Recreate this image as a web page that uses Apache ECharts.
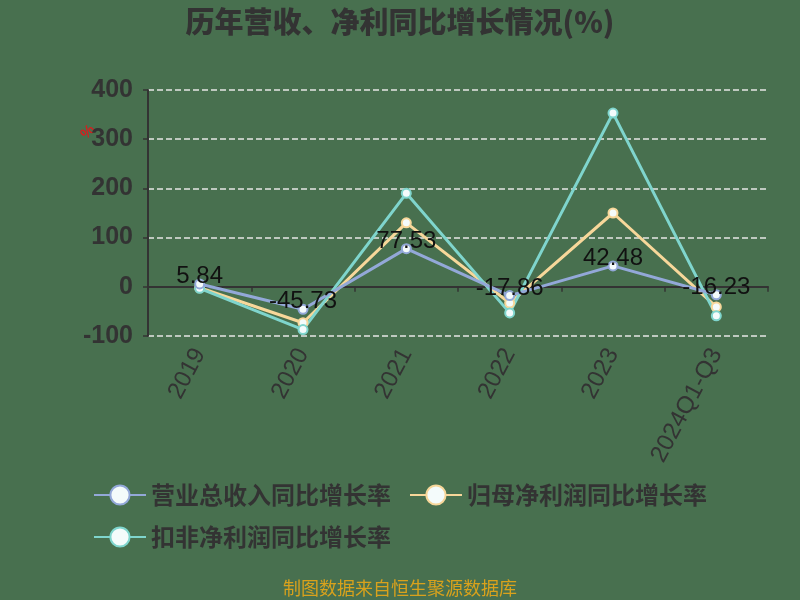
<!DOCTYPE html>
<html lang="zh">
<head>
    <meta charset="UTF-8">
    <title>历年营收、净利同比增长情况</title>
    <script src="https://cdn.jsdelivr.net/npm/echarts@6/dist/echarts.min.js"></script>
    <style>
        html, body { margin: 0; padding: 0; }
        #box { width: 800px; height: 600px; }
    </style>
</head>
<body>
    <div id="box"></div>
<script>
    // 数据
    var years = ['2019', '2020', '2021', '2022', '2023', '2024Q1-Q3']
    var revenueRate = [5.84, -45.73, 77.53, -17.86, 42.48, -16.23]
    var netProfitRate = [-2, -73, 130, -33, 150, -41]
    var deductedRate = [-3, -87, 190, -53, 353, -59]
    var seriesNames = ['营业总收入同比增长率', '归母净利润同比增长率', '扣非净利润同比增长率']
    var colors = ['#93a8d8', '#f7d79a', '#7fd5cd']

    var mEcharts = echarts.init(document.querySelector('#box'))

    function makeSeries(name, data, color, showLabel) {
        return {
            name: name,
            type: 'line',
            data: data,
            symbol: 'circle',
            symbolSize: 9,
            lineStyle: { width: 3, color: color },
            itemStyle: { color: '#f4fbfb', borderColor: color, borderWidth: 2 },
            label: {
                show: showLabel,
                position: 'top',
                distance: -10,
                color: '#111',
                fontSize: 24,
                fontFamily: 'Liberation Sans'
            }
        }
    }

    var option = {
        backgroundColor: '#48704f',
        title: {
            text: '历年营收、净利同比增长情况(%)',
            left: 'center',
            top: 2,
            textStyle: { fontSize: 29, fontWeight: 900, color: '#333', fontFamily: 'Noto Sans CJK SC' }
        },
        grid: { left: 148, right: 32, top: 90, bottom: 264 },
        legend: {
            left: 88,
            top: 478,
            width: 690,
            itemWidth: 52,
            itemHeight: 24,
            itemGap: 18,
            textStyle: { fontSize: 24, fontWeight: 'bold', color: '#333', fontFamily: 'Noto Sans CJK SC' },
            data: seriesNames
        },
        xAxis: {
            type: 'category',
            data: years,
            z: 3,
            axisLine: { lineStyle: { color: '#333', width: 2 } },
            axisTick: { show: true, lineStyle: { color: '#333', width: 1.5 } },
            axisLabel: { rotate: 62, fontSize: 24, color: '#333', fontFamily: 'Liberation Sans', margin: 14 }
        },
        yAxis: {
            type: 'value',
            min: -100,
            max: 400,
            interval: 100,
            axisLine: { show: true, lineStyle: { color: '#333', width: 2 } },
            axisTick: { show: true, lineStyle: { color: '#333', width: 1.5 } },
            axisLabel: { fontSize: 25, fontWeight: 'bold', color: '#333', fontFamily: 'Liberation Sans', margin: 15 },
            splitLine: { lineStyle: { type: 'dashed', color: '#e6e6e6', width: 1.5 } }
        },
        graphic: [{
            type: 'text',
            left: 78,
            top: 122,
            rotation: Math.PI / 4,
            style: { text: '%', fill: '#d42020', fontSize: 15, fontWeight: 'bold' }
        }, {
            type: 'text',
            left: 'center',
            top: 579,
            style: { text: '制图数据来自恒生聚源数据库', fill: '#d9a21c', fontSize: 18, fontFamily: 'Noto Sans CJK SC' }
        }],
        series: [
            makeSeries(seriesNames[0], revenueRate, colors[0], true),
            makeSeries(seriesNames[1], netProfitRate, colors[1], false),
            makeSeries(seriesNames[2], deductedRate, colors[2], false)
        ]
    }
    // 第一条线的标签放最上层
    option.series[0].z = 5
    mEcharts.setOption(option)
</script>
</body>
</html>
